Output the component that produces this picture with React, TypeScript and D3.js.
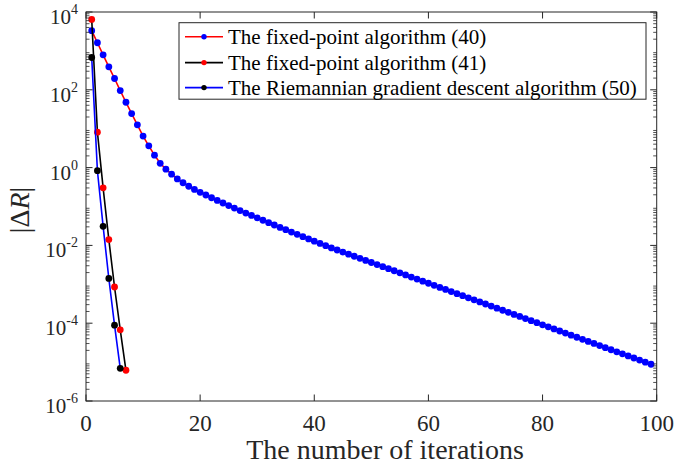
import React from "react";
import * as d3 from "d3";

// log10 |ΔR| per iteration, fixed-point algorithm (40), iterations 1..99
const fixedPoint40Exp = [
  3.52, 3.21, 2.9, 2.59, 2.29, 1.98, 1.68, 1.39, 1.1, 0.81,
  0.56, 0.32, 0.11, -0.04, -0.17, -0.29, -0.39, -0.48, -0.56, -0.635,
  -0.705, -0.775, -0.843, -0.91, -0.976, -1.04, -1.105, -1.168, -1.23, -1.292,
  -1.354, -1.415, -1.476, -1.537, -1.597, -1.657, -1.716, -1.775, -1.834, -1.892,
  -1.95, -2.008, -2.065, -2.118, -2.172, -2.225, -2.279, -2.332, -2.385, -2.439,
  -2.492, -2.546, -2.599, -2.652, -2.706, -2.759, -2.813, -2.866, -2.919, -2.973,
  -3.026, -3.08, -3.133, -3.186, -3.24, -3.293, -3.347, -3.4, -3.453, -3.507,
  -3.56, -3.614, -3.667, -3.72, -3.774, -3.827, -3.881, -3.934, -3.987, -4.041,
  -4.094, -4.148, -4.201, -4.254, -4.308, -4.361, -4.415, -4.468, -4.521, -4.575,
  -4.628, -4.682, -4.735, -4.788, -4.842, -4.895, -4.949, -5.002, -5.055,
];
// fixed-point algorithm (41), iterations 1..7
const fixedPoint41Exp = [3.81, 0.91, -0.52, -1.85, -3.07, -4.17, -5.21];
// Riemannian gradient descent algorithm (50), iterations 1..6
const riemannianExp = [2.83, -0.08, -1.51, -2.85, -4.05, -5.16];

const seriesNames = [
  "The fixed-point algorithm (40)",
  "The fixed-point algorithm (41)",
  "The Riemannian gradient descent algorithm (50)",
];
const xTicks = [0, 20, 40, 60, 80, 100];
const yDecades = [-6, -4, -2, 0, 2, 4];

const toPoints = (exps: number[]) => exps.map((e, i) => ({ it: i + 1, v: Math.pow(10, e) }));

const W = 674;
const H = 468;
const left = 86;
const right = 656.7;
const top = 12;
const bottom = 401;
const axisColor = "#262626";
const font = "'Liberation Serif', 'Times New Roman', serif";

export default function App() {
  const x = d3.scaleLinear().domain([0, 100]).range([left, right]);
  const y = d3.scaleLog().domain([1e-6, 1e4]).range([bottom, top]);

  const series = [
    { pts: toPoints(fixedPoint40Exp), line: "#ff0000", marker: "#0000ff" },
    { pts: toPoints(fixedPoint41Exp), line: "#000000", marker: "#ff0000" },
    { pts: toPoints(riemannianExp), line: "#0000ff", marker: "#000000" },
  ];

  const lineGen = d3
    .line<{ it: number; v: number }>()
    .x((d) => x(d.it))
    .y((d) => y(d.v));

  const minorTicks: number[] = [];
  for (let e = -6; e < 4; e++) {
    for (let m = 2; m <= 9; m++) minorTicks.push(m * Math.pow(10, e));
  }

  const legendX = 179;
  const legendY = 22.7;
  const legendW = 467;
  const legendH = 76.5;
  const rowY = [36.7, 62.6, 87.6];

  return (
    <svg
      width={W}
      height={H}
      style={{ position: "absolute", left: 0, top: 0, background: "#fff" }}
      fontFamily={font}
    >
      <rect x={0} y={0} width={W} height={H} fill="#fff" />

      {/* series */}
      {series.map((s, i) => (
        <g key={i}>
          <path d={lineGen(s.pts) || ""} fill="none" stroke={s.line} strokeWidth={1.6} />
          {s.pts.map((p, j) => (
            <circle key={j} cx={x(p.it)} cy={y(p.v)} r={3.4} fill={s.marker} />
          ))}
        </g>
      ))}

      {/* axes box */}
      <rect x={left} y={top} width={right - left} height={bottom - top} fill="none" stroke={axisColor} strokeWidth={1} />

      {/* x ticks */}
      {xTicks.map((t) => (
        <g key={t}>
          <line x1={x(t)} x2={x(t)} y1={bottom} y2={bottom - 6.5} stroke={axisColor} />
          <line x1={x(t)} x2={x(t)} y1={top} y2={top + 6.5} stroke={axisColor} />
          <text x={x(t)} y={431} textAnchor="middle" fontSize={23} fill={axisColor}>
            {t}
          </text>
        </g>
      ))}

      {/* y ticks */}
      {yDecades.map((e) => {
        const yy = y(Math.pow(10, e));
        return (
          <g key={e}>
            <line x1={left} x2={left + 6.5} y1={yy} y2={yy} stroke={axisColor} />
            <line x1={right} x2={right - 6.5} y1={yy} y2={yy} stroke={axisColor} />
            <text x={78} y={yy + 12} textAnchor="end" fontSize={21} fill={axisColor}>
              10
              <tspan dy={-10} fontSize={14}>
                {e}
              </tspan>
            </text>
          </g>
        );
      })}
      {minorTicks.map((v, i) => (
        <g key={i}>
          <line x1={left} x2={left + 3.5} y1={y(v)} y2={y(v)} stroke={axisColor} strokeWidth={0.8} />
          <line x1={right} x2={right - 3.5} y1={y(v)} y2={y(v)} stroke={axisColor} strokeWidth={0.8} />
        </g>
      ))}

      {/* axis labels */}
      <text x={385} y={459} textAnchor="middle" fontSize={28} fill={axisColor}>
        The number of iterations
      </text>
      <text
        transform={`translate(29, 210) rotate(-90)`}
        textAnchor="middle"
        fontSize={28}
        fill={axisColor}
      >
        |Δ<tspan fontStyle="italic">R</tspan>|
      </text>

      {/* legend */}
      <rect x={legendX} y={legendY} width={legendW} height={legendH} fill="#fff" stroke={axisColor} strokeWidth={1} />
      {series.map((s, i) => (
        <g key={i}>
          <line x1={185} x2={223} y1={rowY[i]} y2={rowY[i]} stroke={s.line} strokeWidth={1.6} />
          <circle cx={204} cy={rowY[i]} r={2.7} fill={s.marker} />
          <text x={228} y={rowY[i] + 7} fontSize={21} fill="#000">
            {seriesNames[i]}
          </text>
        </g>
      ))}
    </svg>
  );
}
